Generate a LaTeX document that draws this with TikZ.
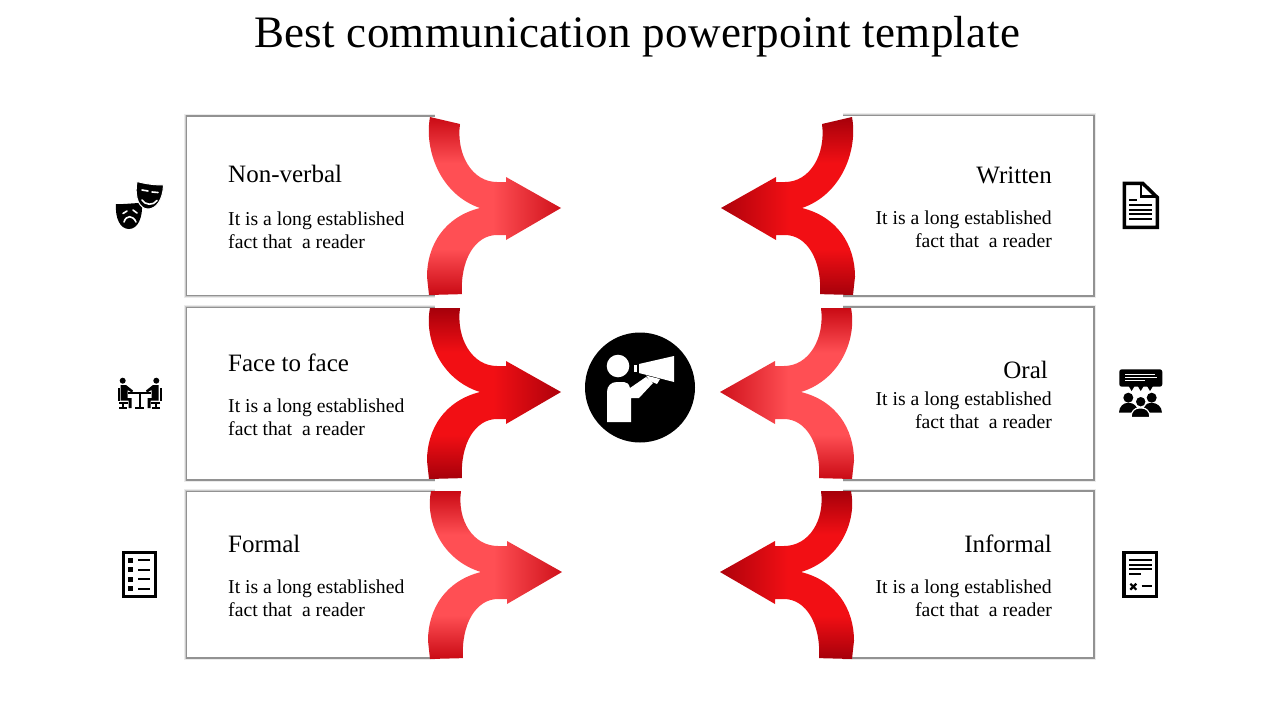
\documentclass[tikz,border=0pt]{standalone}
\usepackage{fontspec}
\usepackage{xcolor}
\usetikzlibrary{backgrounds}
\setmainfont{Liberation Serif}

% sign of x, red, green, blue at the middle, then their change to the edge
\newcommand{\declarearrowshade}[8]{
    \pgfdeclarefunctionalshading{#1}{\pgfpoint{-50bp}{-50bp}}{\pgfpoint{50bp}{50bp}}{}{
        abs 12 sub 13 div exch #2 mul 28 div
        2 copy lt {exch} if pop
        dup 0 lt {pop 0} if dup 1 gt {pop 1} if
        dup #6 mul #3 add exch dup #7 mul #4 add exch #8 mul #5 add
    }
}
\declarearrowshade{softright}{1}{1}{.31}{.33}{-.21}{-.27}{-.25}
\declarearrowshade{softleft}{-1}{1}{.31}{.33}{-.21}{-.27}{-.25}
\declarearrowshade{deepright}{1}{.95}{.06}{.08}{-.30}{-.06}{-.04}
\declarearrowshade{deepleft}{-1}{.95}{.06}{.08}{-.30}{-.06}{-.04}

\tikzset{
    panel/.style={fill=white, anchor=north west, inner sep=0pt},
    panelshadow/.style={preaction={draw=black, opacity=.08, line width=6pt}, preaction={draw=black, opacity=.14, line width=4pt}, preaction={draw=black, opacity=.28, line width=2.4pt}},
    headtext/.style={font=\fontsize{25}{28}\selectfont, inner sep=0pt},
    bodytext/.style={font=\fontsize{19.7}{23}\selectfont, inner sep=0pt},
    iconline/.style={draw=black, line width=2pt},
    iconwhite/.style={draw=white, line width=1.6pt, line cap=round}
}

% tip x, tip y, mirror, upper reach, upper inner reach, lower reach, shading
\newcommand{\mergearrow}[7]{
    \shade[shading=#7, shift={(#1,#2)}, xscale=#3]
        (-131,{-#4}) .. controls (-137,{-.64*#4}) and (-121,{-.15*#4}) .. (-81,0)
        .. controls (-116,{.10*#6}) and (-134,{.42*#6}) .. (-134,{.79*#6})
        -- (-132,{#6}) -- (-99,{.99*#6})
        .. controls (-101,{.6*#6}) and (-86,27) .. (-64,27)
        -- (-55,27) -- (-55,32) -- (0,0) -- (-55,-31) -- (-55,-26) -- (-64,-26)
        .. controls (-89,-26) and (-105,{-.64*#5}) .. (-101,{-#5}) -- cycle;
}

\begin{document}
\begin{tikzpicture}[x=1pt, y=-1pt]
            \useasboundingbox (0,0) rectangle (1280,720);
            \node[anchor=base, inner sep=0pt, font=\fontsize{45}{48}\selectfont\addfontfeature{LetterSpace=0.8}] (title) at (637,47) {Best communication powerpoint template};

            % panels
            \node[panel, minimum width=248pt, minimum height=178pt] (nonverbal) at (187,116.5) {};
            \node[panel, minimum width=248pt, minimum height=171pt] (facetoface) at (187,308) {};
            \node[panel, minimum width=248pt, minimum height=165pt] (formal) at (187,492) {};
            \node[panel, minimum width=250pt, minimum height=179pt] (written) at (843,116) {};
            \node[panel, minimum width=250pt, minimum height=171.5pt] (oral) at (843,307.5) {};
            \node[panel, minimum width=250pt, minimum height=165.5pt] (informal) at (843,491.5) {};
            \begin{scope}[on background layer]
                \foreach \nm in {nonverbal, facetoface, formal}
                    \path[panelshadow, xshift=-1pt] (\nm.north east) -- (\nm.north west) -- (\nm.south west) -- (\nm.south east);
                \foreach \nm in {written, oral, informal}
                    \path[panelshadow, xshift=1pt] (\nm.north west) -- (\nm.north east) -- (\nm.south east) -- (\nm.south west);
            \end{scope}

            % arrows
            \mergearrow{561}{208}{1}{91}{84}{87}{softright}
            \mergearrow{561}{392}{1}{84}{84}{87}{deepright}
            \mergearrow{562}{572}{1}{81}{81}{87}{softright}
            \mergearrow{721}{208}{-1}{91}{84}{87}{deepleft}
            \mergearrow{720}{392}{-1}{84}{84}{87}{softleft}
            \mergearrow{720}{572}{-1}{81}{81}{87}{deepleft}

            % left texts
            \foreach \nm/\ya/\yb/\ttl in {nonverbal/182/212/Non-verbal, facetoface/371/399/Face to face, formal/552/580/Formal} {
                \node[headtext, anchor=base west] (\nm head) at (228,\ya) {\ttl};
                \node[bodytext, anchor=north west, align=left] (\nm body) at (228,\yb) {It is a long established\\fact that\ \ a reader};
            }
            % right texts
            \foreach \nm/\xa/\ya/\yb/\ttl in {written/1052/183/211/Written, oral/1048/378/392/Oral, informal/1052/552/580/Informal} {
                \node[headtext, anchor=base east] (\nm head) at (\xa,\ya) {\ttl};
                \node[bodytext, anchor=north east, align=right] (\nm body) at (1052,\yb) {It is a long established\\fact that\ \ a reader};
            }

            % centre
            \node[circle, fill=black, minimum size=110pt, inner sep=0pt] (speaker) at (640,387.5) {};
            \fill[white] (618,366) circle (11.3);
            \fill[white] (607,422) -- (607,392) .. controls (607,386) and (611,382) .. (617,382) -- (624,382)
                .. controls (627,382) and (629,384) .. (630,388) -- (646,377) -- (653,383) -- (639,398) -- (631,398) -- (631,422) -- cycle;
            \fill[white] (639,364) -- (674,356) -- (674,382) -- (639,373) -- cycle;
            \fill[white] (634,365) rectangle (637,372);
            \fill[white] (646,375.5) -- (660,379) -- (657,384) -- (650,381) -- cycle;

            % masks
            \fill[black] (116,204) .. controls (124,204.5) and (133,203) .. (142,203) .. controls (143,217) and (138,229) .. (129,229) .. controls (120,229) and (115,218) .. (116,204) -- cycle;
            \filldraw[fill=black, draw=white, line width=1pt] (137,181.5) .. controls (146,184) and (155,185) .. (163.5,185) .. controls (163,200) and (156,209) .. (148,209) .. controls (140,209) and (134,199) .. (137,181.5) -- cycle;
            \draw[iconwhite] (142,190) -- (148,191) (152,192) -- (158,192.5);
            \draw[iconwhite] (142,200) .. controls (145,205) and (153,206) .. (157,200.5);
            \draw[iconwhite] (123,213.5) -- (127,211) (133,210) -- (137,213);
            \draw[iconwhite] (124,222) .. controls (126,215) and (133,215) .. (136,222);

            % people at a table
            \draw[iconline] (128,392.7) -- (151,392.7) (139.5,392.7) -- (139.5,407) (135,408) -- (144,408);
            \foreach \mir/\off in {1/0, -1/279} {
                \begin{scope}[xscale=\mir, xshift=-\off pt]
                    \fill[black] (122.7,380.7) circle (3);
                    \fill[black] (120.5,385) -- (126,385) -- (133,390.5) -- (132,392.5) -- (127.5,390) -- (127.5,398) -- (131.5,398) -- (131.5,408) -- (128.5,408) -- (128.5,400.5) -- (120.5,400.5) -- cycle;
                    \draw[iconline] (118.5,388) -- (118.5,401) (119,402.5) -- (128,402.5) (123,402.5) -- (123,407) (119,408) -- (127,408);
                \end{scope}
            }

            % form with bullets
            \draw[black, line width=3.5pt] (123.4,552.4) rectangle (155.6,596.6);
            \foreach \yy in {560,569.8,579,588.5} {
                \fill[black] (128.3,\yy-2.5) rectangle (133.3,\yy+2.5);
                \draw[iconline] (138.3,\yy) -- (150,\yy);
            }

            % written page
            \draw[black, line width=3.5pt, line join=miter] (1124.4,183.4) -- (1142.8,183.4) -- (1157.3,197.5) -- (1157.3,227.3) -- (1124.4,227.3) -- cycle;
            \draw[black, line width=2.5pt] (1141,183) -- (1141,196.7) -- (1157,196.7);
            \draw[iconline] (1129.3,200) -- (1137.3,200);
            \foreach \yy in {205,209.7,214.3,219}
                \draw[iconline] (1129.3,\yy) -- (1152.3,\yy);

            % audience
            \fill[black, rounded corners=2.5pt] (1119.3,369.3) rectangle (1162.3,386.7);
            \draw[white, line width=1pt] (1125,374.5) -- (1155,374.5) (1125,377.5) -- (1157,377.5) (1125,380.5) -- (1145,380.5);
            \foreach \xx in {1131.6,1140.7,1150}
                \fill[black] (\xx-3,386) -- (\xx+3,386) -- (\xx,391) -- cycle;
            \fill[black] (1128.3,397.7) circle (5) (1151.7,397.7) circle (5);
            \fill[black] (1119,412.7) .. controls (1119,406) and (1124,403) .. (1127,403) -- (1130,403) .. controls (1133,403) and (1138,406) .. (1138,412.7) -- cycle;
            \fill[black] (1143,412.7) .. controls (1143,406) and (1147,403) .. (1150,403) -- (1153,403) .. controls (1156,403) and (1162,406) .. (1162,412.7) -- cycle;
            \filldraw[fill=black, draw=white, line width=1.2pt] (1140.7,401.7) circle (5.5);
            \filldraw[fill=black, draw=white, line width=1.2pt] (1131,417.5) .. controls (1131,411) and (1135,408) .. (1139,408) -- (1142,408) .. controls (1146,408) and (1150,411) .. (1150,417.5) -- cycle;

            % form with cross
            \draw[black, line width=3.5pt] (1124,552.4) rectangle (1156.6,596.6);
            \foreach \yy in {560,565,569.3}
                \draw[iconline] (1129.3,\yy) -- (1152.3,\yy);
            \draw[iconline] (1129.3,574.3) -- (1140.7,574.3);
            \draw[black, line width=2.2pt] (1130.3,583.7) -- (1136.3,589.7) (1136.3,583.7) -- (1130.3,589.7);
            \draw[iconline] (1141.7,585.7) -- (1152.3,585.7);
\end{tikzpicture}
\end{document}
